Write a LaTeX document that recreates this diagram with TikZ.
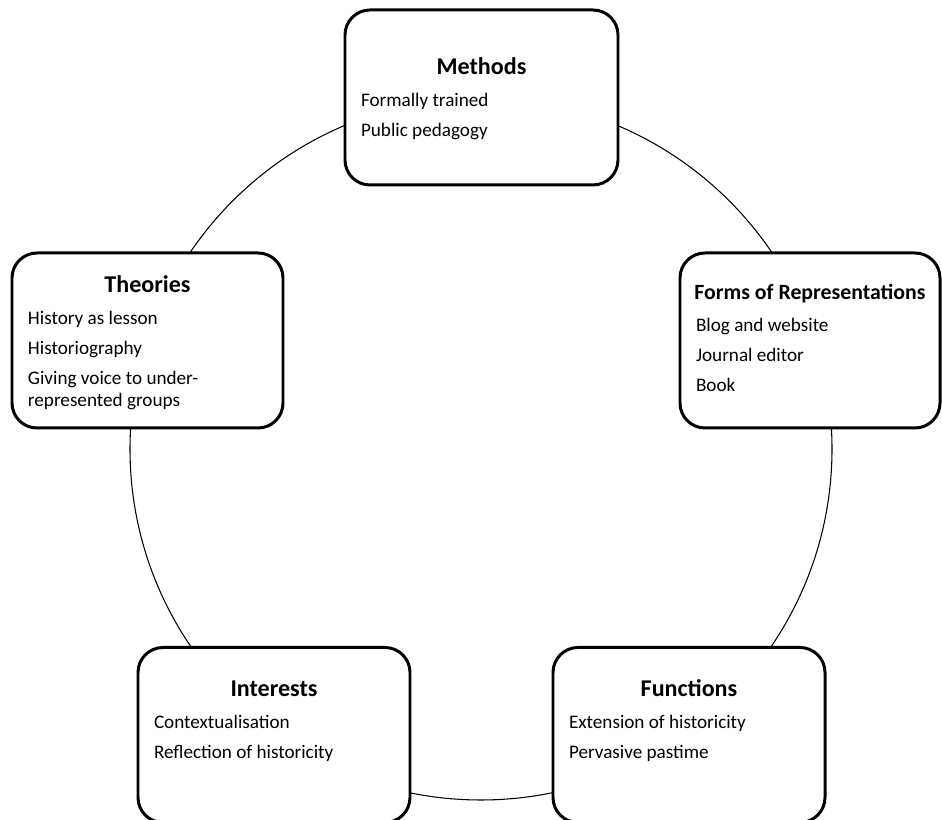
\documentclass[tikz,border=0pt]{standalone}
\usepackage{fontspec}
\setmainfont{Carlito}

\newcommand{\titlesize}{13.7}
\newcommand{\itemfont}{\fontsize{10.9}{12.5}\selectfont}
% #1 width, #2 title baseline below top, #3 title, #4 items
\newcommand{\topictext}[4]{%
  \parbox[t][3.5cm][t]{#1}{\vspace*{0pt}%
    \makebox[#1]{\rule{0pt}{#2}\fontsize{\titlesize}{14}\selectfont\bfseries #3}\par\vspace{1pt}%
    \itemfont\raggedright\setlength{\parskip}{4.6pt}#4}}

\tikzset{
  topic/.style={draw, line width=1.7pt, rounded corners=0.5cm, fill=white,
    inner xsep=0.32cm, inner ysep=0pt, align=left},
  ring/.style={line width=0.6pt}
}

\begin{document}
\begin{tikzpicture}
    \useasboundingbox (0, 0) rectangle (18.84, 16.4);

    % Circle behind the boxes
    \coordinate (centre) at (9.62, 7.42);
    \draw [ring] (centre) circle (7.02);

    % Top
    \node [topic] (meth) at (9.63, 14.45)
      {\topictext{4.82cm}{1.3cm}{Methods}{Formally trained\par Public pedagogy}};

    % Left and right
    \node [topic] (theo) at (2.95, 9.59)
      {\topictext{4.78cm}{0.8cm}{Theories}{History as lesson\par Historiography\par
        Giving voice to under-\\represented groups}};
    \node [topic] (forms) at (16.2, 9.59)
      {\renewcommand{\titlesize}{12.4}%
       \topictext{4.56cm}{0.94cm}{Forms of Representations}{Blog and website\par
        Journal editor\par Book}};

    % Bottom
    \node [topic] (inter) at (5.48, 1.70)
      {\topictext{4.8cm}{0.98cm}{Interests}{Contextualisation\par Reflection of historicity}};
    \node [topic] (func) at (13.78, 1.70)
      {\topictext{4.8cm}{0.98cm}{Functions}{Extension of historicity\par Pervasive pastime}};
\end{tikzpicture}
\end{document}
